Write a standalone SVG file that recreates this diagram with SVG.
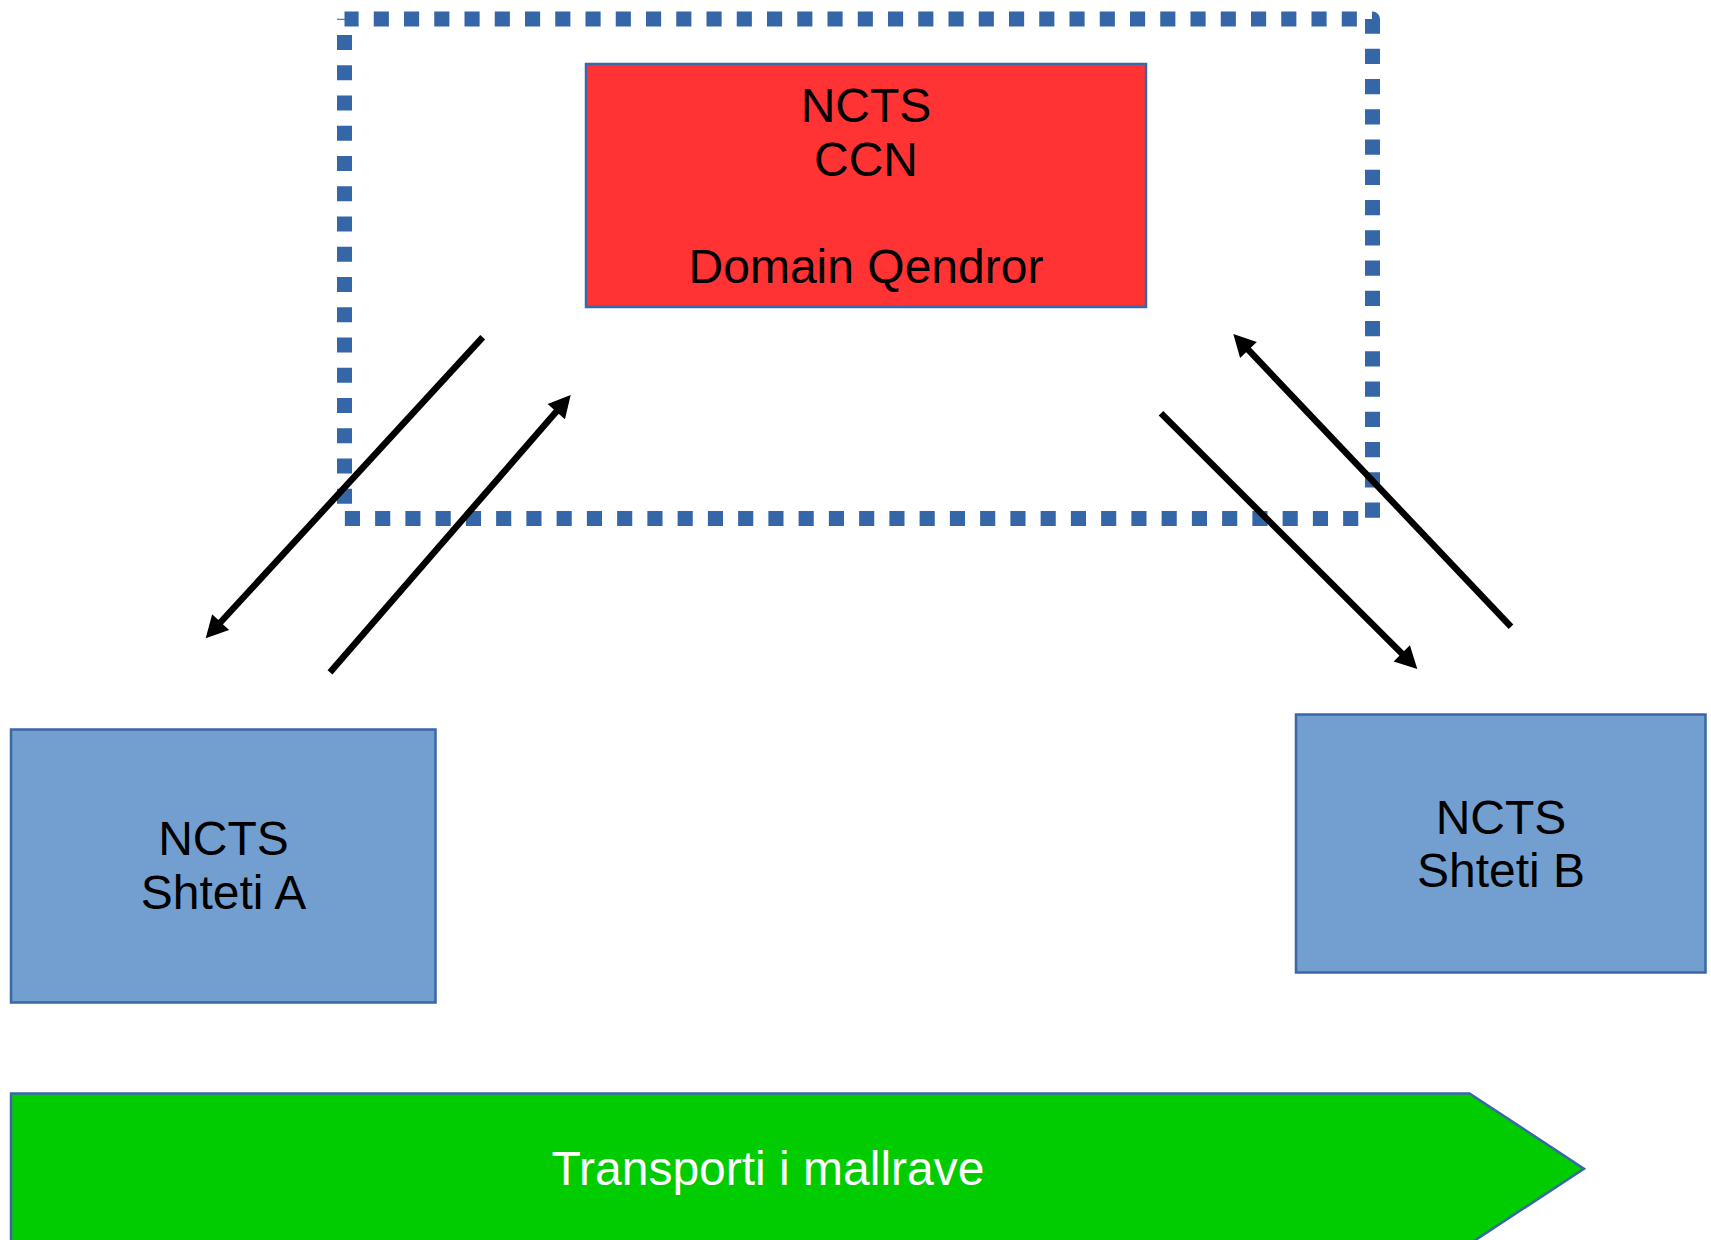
<svg xmlns="http://www.w3.org/2000/svg" width="1711" height="1240" viewBox="0 0 1711 1240">
<style>
  .lbl { font-family: "Liberation Sans", Arial, sans-serif; font-size: 48px; fill: #000; text-anchor: middle; }
  .white { fill: #fff; }
  .box { fill: #729FCF; stroke: #3A67A6; stroke-width: 2.5; }
  .conn { stroke: #000; stroke-width: 6.5; fill: none; marker-end: url(#ah); }
</style>
<defs>
  <marker id="ah" markerUnits="userSpaceOnUse" viewBox="-4 -12 24 24" markerWidth="24" markerHeight="24" refX="0" refY="0" orient="auto" overflow="visible">
    <path d="M-4,-11.5 L18,0 L-4,11.5 Z" fill="#000"/>
  </marker>
</defs>
<rect x="0" y="0" width="1711" height="1240" fill="#fff"/>

<g id="domain-frame">
  <path d="M344.5,19 H1372.5 V518.5 H344.5 V19" fill="none" stroke="#3566A8" stroke-width="15" stroke-dasharray="15.125 15.125" stroke-dashoffset="1" stroke-linejoin="round" stroke-linecap="butt"/>
  <line x1="337" y1="19" x2="344.5" y2="19" stroke="#3566A8" stroke-width="1" opacity="0.5"/>
</g>

<g id="ccn">
  <rect x="586" y="64" width="560" height="243" fill="#FF3333" stroke="#3A67A6" stroke-width="2.5"/>
  <text class="lbl" x="866" y="121.5">NCTS</text>
  <text class="lbl" x="866" y="175.5">CCN</text>
  <text class="lbl" x="866" y="282.5">Domain Qendror</text>
</g>

<g id="state-a">
  <rect class="box" x="11" y="729.5" width="424.5" height="273"/>
  <text class="lbl" x="223.5" y="855">NCTS</text>
  <text class="lbl" x="223.5" y="909">Shteti A</text>
</g>

<g id="state-b">
  <rect class="box" x="1296" y="714.5" width="409.5" height="258"/>
  <text class="lbl" x="1501" y="833.5">NCTS</text>
  <text class="lbl" x="1501" y="886.5">Shteti B</text>
</g>

<g id="transport">
  <path d="M11,1093.5 H1469.5 L1584,1168.7 L1469.5,1244 H11 Z" fill="#00CC00" stroke="#3A67A6" stroke-width="2.5"/>
  <text class="lbl white" x="768" y="1185">Transporti i mallrave</text>
</g>

<g id="connectors">
  <line class="conn" x1="482.7" y1="337.3" x2="217.9" y2="625.1"/>
  <line class="conn" x1="330" y1="672.3" x2="558.9" y2="408.6"/>
  <line class="conn" x1="1161" y1="413.3" x2="1404.6" y2="656.3"/>
  <line class="conn" x1="1511" y1="626.7" x2="1245.7" y2="347.1"/>
</g>
</svg>
